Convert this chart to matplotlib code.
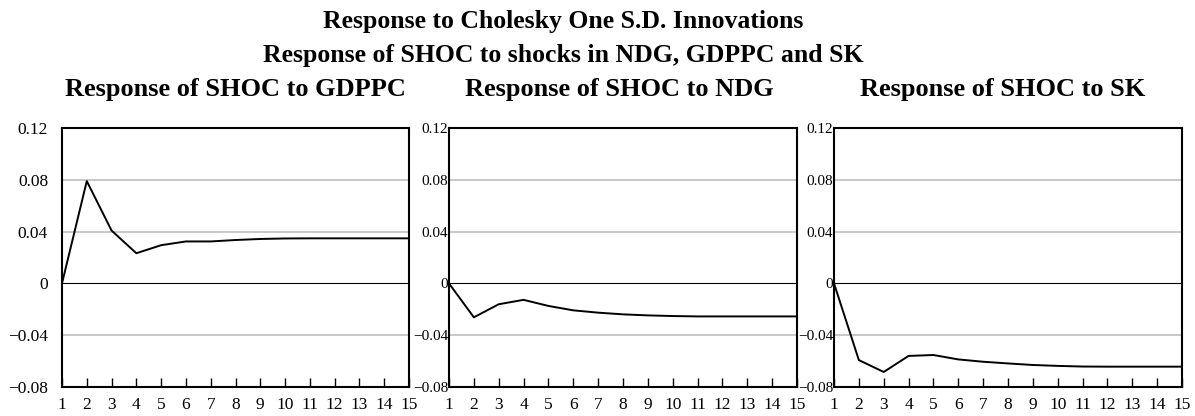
import matplotlib.pyplot as plt

plt.rcParams['font.family'] = ['Liberation Serif', 'DejaVu Serif']

periods = list(range(1, 16))
gdppc = [0.0, 0.079, 0.0408, 0.0233, 0.0295, 0.0324, 0.0324, 0.0335, 0.0343,
         0.0347, 0.0348, 0.0348, 0.0348, 0.0348, 0.0348]
ndg = [0.0, -0.0262, -0.0161, -0.0127, -0.0174, -0.0208, -0.0226, -0.0239,
       -0.0247, -0.0252, -0.0255, -0.0255, -0.0255, -0.0255, -0.0255]
sk = [0.0, -0.0592, -0.0684, -0.0560, -0.0553, -0.0587, -0.0605, -0.0618,
      -0.0630, -0.0637, -0.0642, -0.0643, -0.0643, -0.0643, -0.0643]

panel_titles = ["Response of SHOC to GDPPC", "Response of SHOC to NDG",
                "Response of SHOC to SK"]
series = [gdppc, ndg, sk]
yticks = [-0.08, -0.04, 0, 0.04, 0.08, 0.12]
ytick_labels = ["\u22120.08", "\u22120.04", "0", "0.04", "0.08", "0.12"]

W, H = 1195, 416
fig = plt.figure(figsize=(W / 100, H / 100), dpi=100)

# axes boxes in pixels: left, right ; title centres
boxes = [(62, 409), (449, 797), (834, 1182)]
title_x = [235, 619, 1003]
top_px, bot_px = 128, 387

fig.text(563 / W, 1 - 28 / H, "Response to Cholesky One S.D. Innovations",
         ha='center', va='baseline', fontsize=18.5, fontweight='bold')
fig.text(563 / W, 1 - 62 / H, "Response of SHOC to shocks in NDG, GDPPC and SK",
         ha='center', va='baseline', fontsize=18.5, fontweight='bold')

for i, (l, r) in enumerate(boxes):
    ax = fig.add_axes([l / W, 1 - bot_px / H, (r - l) / W, (bot_px - top_px) / H])
    for yv in [-0.04, 0.04, 0.08]:
        ax.axhline(yv, color='#c8c8c8', lw=1.4, zorder=1)
    ax.axhline(0, color='black', lw=0.8, zorder=2)
    ax.plot(periods, series[i], color='black', lw=1.4, zorder=3)
    ax.set_xlim(1, 15)
    ax.set_ylim(-0.08, 0.12)
    ax.set_xticks(periods)
    ax.set_xticklabels([str(p) for p in periods])
    ax.set_yticks(yticks)
    ax.set_yticklabels(ytick_labels)
    ax.tick_params(axis='x', direction='in', length=6.5, width=1, labelsize=12.5, pad=7)
    if i == 0:
        ax.tick_params(axis='y', length=0, labelsize=12.5, pad=10)
    else:
        ax.tick_params(axis='y', length=0, labelsize=11, pad=0.5)
    for s in ax.spines.values():
        s.set_linewidth(1.5)
    fig.text(title_x[i] / W, 1 - 96 / H, panel_titles[i], ha='center',
             va='baseline', fontsize=19, fontweight='bold')

fig.savefig("out.png", dpi=100)
